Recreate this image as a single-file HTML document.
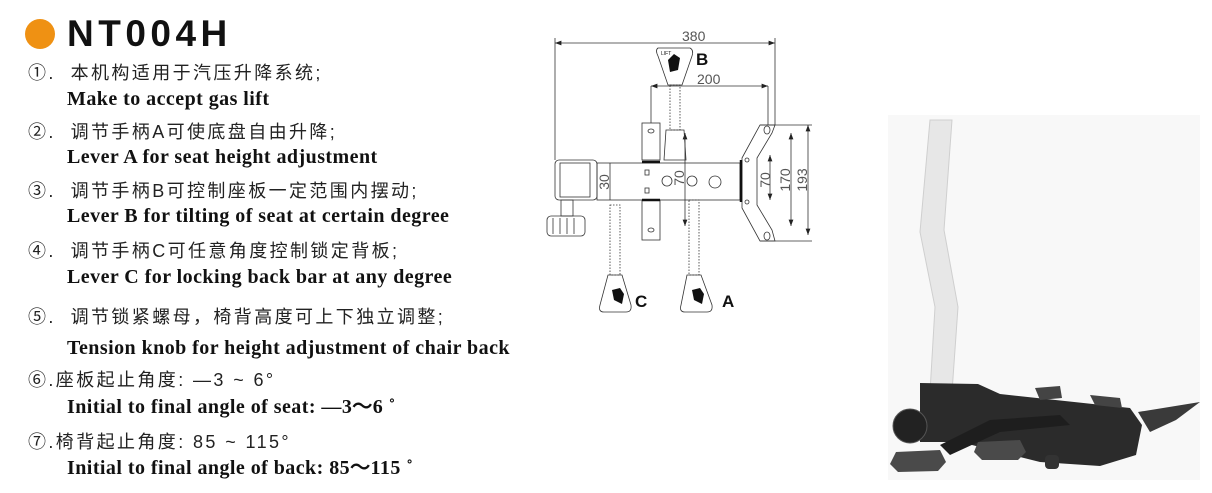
<!DOCTYPE html>
<html><head><meta charset="utf-8"><style>
body{margin:0;width:1212px;height:493px;background:#fff;position:relative;overflow:hidden}
.cn{position:absolute;left:28px;font-family:"Liberation Sans","Noto Sans CJK SC",sans-serif;font-size:18px;color:#222;letter-spacing:2.4px;white-space:nowrap;line-height:20px}
.en{position:absolute;left:67px;font-family:"Liberation Serif",serif;font-weight:bold;font-size:20px;letter-spacing:0.45px;color:#111;white-space:nowrap;line-height:20px}
</style></head><body>
<div style="position:absolute;left:25px;top:19px;width:30px;height:30px;border-radius:50%;background:#ef9113"></div>
<div style="position:absolute;left:67px;top:13px;font-family:'Liberation Sans',sans-serif;font-weight:bold;font-size:37px;letter-spacing:4.5px;color:#111;line-height:42px">NT004H</div>

<div class="cn" style="top:63px">①.&nbsp; 本机构适用于汽压升降系统;</div>
<div class="en" style="top:89px">Make to accept gas lift</div>
<div class="cn" style="top:122px">②.&nbsp; 调节手柄A可使底盘自由升降;</div>
<div class="en" style="top:147px">Lever A for seat height adjustment</div>
<div class="cn" style="top:181px">③.&nbsp; 调节手柄B可控制座板一定范围内摆动;</div>
<div class="en" style="top:206px">Lever B for tilting of seat at certain degree</div>
<div class="cn" style="top:241px">④.&nbsp; 调节手柄C可任意角度控制锁定背板;</div>
<div class="en" style="top:267px">Lever C for locking back bar at any degree</div>
<div class="cn" style="top:307px">⑤.&nbsp; 调节锁紧螺母，椅背高度可上下独立调整;</div>
<div class="en" style="top:338px">Tension knob for height adjustment of chair back</div>
<div class="cn" style="top:370px;letter-spacing:2.4px">⑥.座板起止角度: —3 ~ 6°</div>
<div class="en" style="top:397px">Initial to final angle of seat: —3～6 ˚</div>
<div class="cn" style="top:432px;letter-spacing:2.4px">⑦.椅背起止角度: 85 ~ 115°</div>
<div class="en" style="top:458px">Initial to final angle of back: 85～115 ˚</div>

<svg width="1212" height="493" style="position:absolute;left:0;top:0" font-family="Liberation Sans, sans-serif">
<defs><marker id="ar" markerWidth="8" markerHeight="6" refX="8" refY="3" orient="auto-start-reverse"><path d="M0,0L8,3L0,6z" fill="#222"/></marker></defs>
<g stroke="#333" stroke-width="0.8" fill="none">
<line x1="555" y1="43" x2="775" y2="43" marker-start="url(#ar)" marker-end="url(#ar)"/>
<line x1="555" y1="38" x2="555" y2="160"/><line x1="775" y1="38" x2="775" y2="125"/>
<line x1="651" y1="86" x2="768" y2="86" marker-start="url(#ar)" marker-end="url(#ar)"/>
<line x1="651" y1="86" x2="651" y2="123"/><line x1="768" y1="86" x2="768" y2="125"/>
<line x1="770" y1="155" x2="770" y2="200" marker-start="url(#ar)" marker-end="url(#ar)"/>
<line x1="791" y1="133" x2="791" y2="226" marker-start="url(#ar)" marker-end="url(#ar)"/>
<line x1="808" y1="125" x2="808" y2="235" marker-start="url(#ar)" marker-end="url(#ar)"/>
<line x1="760" y1="125" x2="812" y2="125"/><line x1="760" y1="241" x2="812" y2="241"/>
<line x1="685" y1="133" x2="685" y2="226" marker-start="url(#ar)" marker-end="url(#ar)"/>
<line x1="610" y1="163" x2="610" y2="200"/>
<rect x="555" y="160" width="42" height="40" rx="4"/>
<rect x="560" y="163" width="30" height="34"/>
<rect x="561" y="200" width="12" height="16"/>
<rect x="547" y="216" width="38" height="20" rx="4"/>
<line x1="553" y1="218" x2="553" y2="234"/><line x1="560" y1="218" x2="560" y2="234"/><line x1="567" y1="218" x2="567" y2="234"/><line x1="574" y1="218" x2="574" y2="234"/>
<rect x="597" y="163" width="143" height="37"/>
<circle cx="667" cy="181" r="5"/><circle cx="692" cy="181" r="5"/><circle cx="715" cy="182" r="6"/>
<rect x="645" y="170" width="4" height="5"/><rect x="645" y="188" width="4" height="5"/>
<rect x="642" y="123" width="18" height="37"/><rect x="642" y="200" width="18" height="40"/>
<ellipse cx="651" cy="131" rx="3" ry="2"/><ellipse cx="651" cy="230" rx="3" ry="2"/>
<path d="M742,158 L760,125 L775,125 L772,133 L757,158 L757,205 L772,230 L775,241 L760,241 L742,208 Z"/>
<ellipse cx="767" cy="130" rx="3" ry="4"/><ellipse cx="767" cy="236" rx="3" ry="4"/>
<circle cx="747" cy="160" r="2"/><circle cx="747" cy="202" r="2"/>
<path d="M658,48 L690,48 Q694,50 692,56 L682,85 L668,85 L658,56 Q655,50 658,48Z"/>
<rect x="670" y="85" width="10" height="45" stroke-dasharray="1.5 1.5"/>
<path d="M666,130 L684,130 L686,160 L664,160Z"/>
<rect x="610" y="205" width="10" height="70" stroke-dasharray="1.5 1.5"/>
<path d="M608,275 L622,275 L631,305 Q632,312 626,312 L604,312 Q598,312 600,305Z"/>
<rect x="689" y="200" width="10" height="75" stroke-dasharray="1.5 1.5"/>
<path d="M687,275 L701,275 L712,305 Q713,312 707,312 L685,312 Q679,312 681,305Z"/>
</g>
<line x1="741" y1="160" x2="741" y2="202" stroke="#111" stroke-width="2.5"/>
<line x1="642" y1="162" x2="660" y2="162" stroke="#111" stroke-width="2.5"/>
<line x1="642" y1="200" x2="660" y2="200" stroke="#111" stroke-width="2.5"/>
<path d="M668,60 l6,-6 l6,4 l-2,12 l-8,2z" fill="#111"/>
<path d="M612,290 l8,-2 l4,6 l-2,10 l-8,-4z" fill="#111"/>
<path d="M692,290 l8,-2 l4,6 l-2,10 l-8,-4z" fill="#111"/>
<g font-size="14" fill="#555">
<text x="682" y="41">380</text>
<text x="697" y="84">200</text>
<text transform="translate(609,182) rotate(-90)" text-anchor="middle">30</text>
<text transform="translate(684,178) rotate(-90)" text-anchor="middle">70</text>
<text transform="translate(770,180) rotate(-90)" text-anchor="middle">70</text>
<text transform="translate(790,180) rotate(-90)" text-anchor="middle">170</text>
<text transform="translate(807,180) rotate(-90)" text-anchor="middle">193</text>
</g>
<g font-weight="bold" font-size="17" fill="#111">
<text x="696" y="65">B</text><text x="635" y="307">C</text><text x="722" y="307">A</text>
</g>
<text x="661" y="55" font-size="5" fill="#111">LIFT</text>

<rect x="888" y="115" width="312" height="365" fill="#f8f8f8"/>
<path d="M930,120 L952,120 L944,230 L958,307 L952,392 L930,392 L935,307 L920,232 Z" fill="#e7e7e7" stroke="#cfcfcf"/>
<path d="M920,383 L978,384 L1000,394 L1130,408 L1142,425 L1136,455 L1100,466 L1040,462 L960,442 L920,442 Z" fill="#2b2b2b"/>
<path d="M1138,412 L1200,402 L1176,420 L1150,432 Z" fill="#3a3a3a"/>
<path d="M1035,388 L1060,386 L1062,398 L1040,400Z" fill="#444"/>
<path d="M1090,395 L1120,398 L1122,408 L1095,405Z" fill="#444"/>
<circle cx="910" cy="426" r="17" fill="#222" stroke="#555"/>
<path d="M896,452 L940,450 L946,462 L938,471 L898,472 L890,464Z" fill="#4a4a4a"/>
<path d="M978,442 L1020,440 L1026,452 L1018,460 L982,460 L974,452Z" fill="#4a4a4a"/>
<rect x="1045" y="455" width="14" height="14" rx="4" fill="#333"/>
<path d="M940,445 L990,420 L1060,415 L1070,425 L1000,432 L950,455Z" fill="#1e1e1e"/>
</svg>
</body></html>
